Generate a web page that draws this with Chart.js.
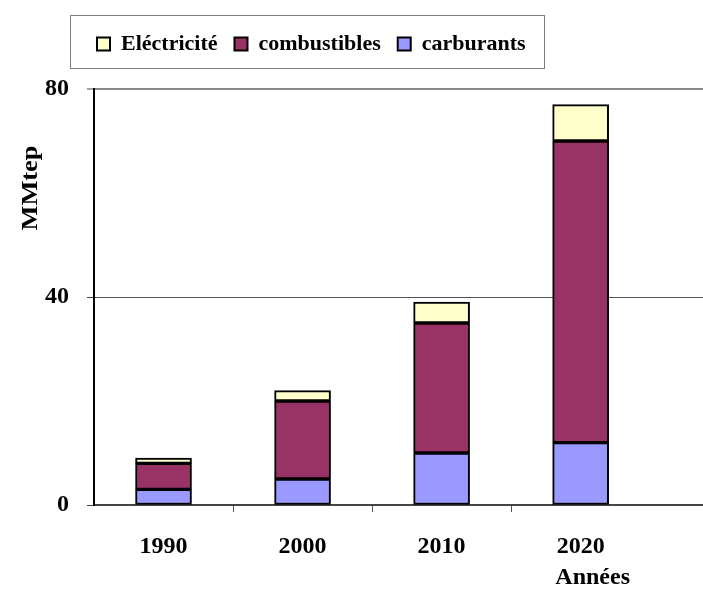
<!DOCTYPE html>
<html><head><meta charset="utf-8">
<script src="https://cdn.jsdelivr.net/npm/chart.js@4/dist/chart.umd.min.js"></script>
<style>html,body{margin:0;padding:0;background:#fff;overflow:hidden}</style>
</head><body>
<canvas id="c" width="703" height="604"></canvas>
<script>
const years = ['1990', '2000', '2010', '2020'];
const carburants = [3, 5, 10, 12];
const combustibles = [5, 15, 25, 58];
const electricite = [1, 2, 4, 7];
const yTicks = [0, 40, 80];
const seriesNames = ['carburants', 'combustibles', 'Eléctricité'];
const yTitle = 'MMtep';
const xTitle = 'Années';

const FONT = '"Liberation Serif", "Times New Roman", serif';
const toPts = arr => arr.map((v, i) => ({ x: i + 0.5, y: v }));

const decor = {
  id: 'decor',
  afterLayout(chart) {
    // let the y tick labels use the space left of the (narrow) y scale box
    const y = chart.scales.y;
    y.width = y.right;
    y.left = 0;
  },
  afterDraw(chart) {
    const ctx = chart.ctx, ca = chart.chartArea, lg = chart.legend;
    ctx.save();
    const hb = lg && lg.legendHitBoxes;
    if (hb && hb.length) {
      const l = Math.min(...hb.map(h => h.left)) - 27;
      const r = Math.max(...hb.map(h => h.left + h.width)) + 18;
      const cy = hb[0].top + hb[0].height / 2;
      ctx.strokeStyle = '#7f7f7f'; ctx.lineWidth = 1;
      ctx.strokeRect(Math.round(l) + 0.5, Math.round(cy - 29) + 0.5, Math.round(r - l), 53);
    }
    ctx.fillStyle = '#000';
    ctx.font = 'bold 24px ' + FONT;
    ctx.textAlign = 'center'; ctx.textBaseline = 'middle';
    ctx.save();
    ctx.translate(ca.left - 63, ca.top + 99);
    ctx.rotate(-Math.PI / 2);
    ctx.scale(1.1, 1);
    ctx.fillText(yTitle, 0, 0);
    ctx.restore();
    const xs = chart.scales.x;
    ctx.fillText(xTitle, xs.getPixelForValue(years.length - 0.5) + 12, xs.top + 73);
    ctx.restore();
  }
};

const common = { borderColor: '#000', borderWidth: 2, borderSkipped: false, barThickness: 56 };

new Chart(document.getElementById('c'), {
  type: 'bar',
  data: {
    datasets: [
      Object.assign({ label: seriesNames[0], data: toPts(carburants), backgroundColor: '#9999FF' }, common),
      Object.assign({ label: seriesNames[1], data: toPts(combustibles), backgroundColor: '#993366' }, common),
      Object.assign({ label: seriesNames[2], data: toPts(electricite), backgroundColor: '#FFFFCC' }, common)
    ]
  },
  options: {
    responsive: false,
    animation: false,
    devicePixelRatio: 1,
    layout: { padding: { left: 80, top: 16, right: 0, bottom: 0 } },
    plugins: {
      tooltip: { enabled: false },
      legend: {
        display: true, position: 'top', align: 'start', fullSize: true, reverse: true,
        labels: { color: '#000', boxWidth: 13, boxHeight: 13, padding: 17,
          font: { family: FONT, size: 22, weight: 'bold' } }
      },
      subtitle: { display: true, text: '', position: 'top', weight: 500,
        font: { size: 10, lineHeight: 1 }, padding: { top: 0, bottom: 14 } }
    },
    scales: {
      x: {
        type: 'linear', stacked: true, min: 0, max: 4.38, offset: false,
        afterBuildTicks: s => { const t = []; for (let i = 1; i < years.length * 2; i++) t.push({ value: i / 2 }); s.ticks = t; },
        afterFit: s => { s.height = 99; },
        ticks: { autoSkip: false, maxRotation: 0, padding: 20, color: '#000',
          font: { family: FONT, size: 24, weight: 'bold' },
          callback: v => Number.isInteger(v) ? '' : years[v - 0.5] },
        grid: { display: true, offset: false, drawOnChartArea: false, tickLength: 7, tickWidth: 1,
          tickColor: c => (c.tick && Number.isInteger(c.tick.value)) ? '#555' : 'rgba(0,0,0,0)' },
        border: { display: true, color: '#444', width: 2 }
      },
      y: {
        stacked: true, min: 0, max: 80,
        afterBuildTicks: s => { s.ticks = yTicks.map(v => ({ value: v })); },
        afterFit: s => { s.width = 14; },
        ticks: { padding: 18, color: '#000', font: { family: FONT, size: 24, weight: 'bold' } },
        grid: { drawOnChartArea: true, tickLength: 7, tickWidth: 1, tickColor: '#444',
          color: c => c.tick.value === 80 ? '#888' : (c.tick.value === 0 ? 'rgba(0,0,0,0)' : '#555'),
          lineWidth: c => c.tick.value === 80 ? 2 : 1 },
        border: { display: true, color: '#000', width: 2 }
      }
    }
  },
  plugins: [decor]
});
</script>
</body></html>
